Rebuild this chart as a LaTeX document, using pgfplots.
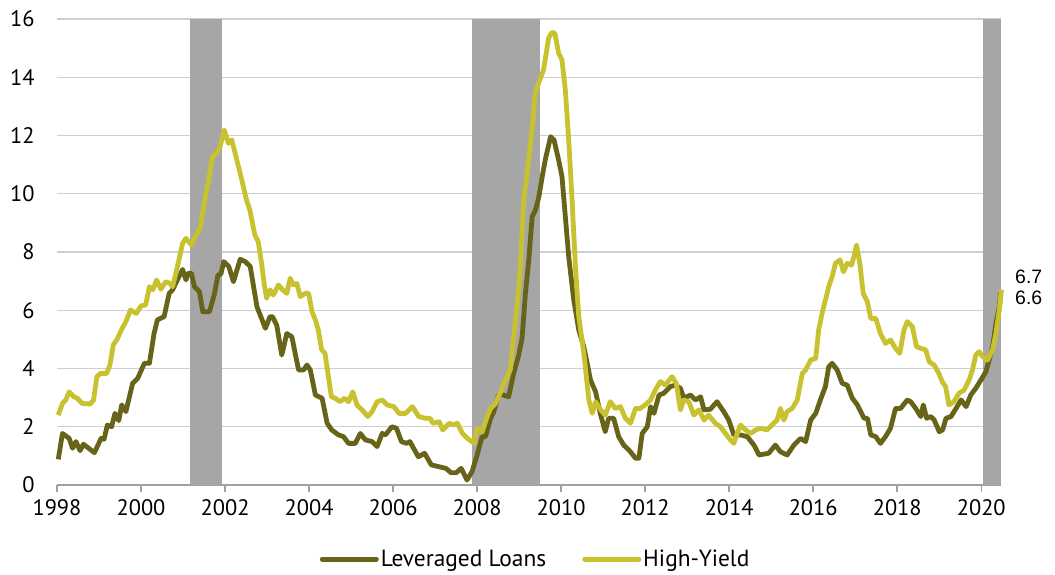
\documentclass[border=0pt]{standalone}
\usepackage{fontspec}
\setmainfont{PT Sans}
\newfontfamily\lblfont{Liberation Sans}
\usepackage{pgfplots}
\pgfplotsset{compat=1.18}
\definecolor{loancol}{HTML}{67641A}
\definecolor{hycol}{HTML}{C8C230}
\definecolor{recgray}{HTML}{A6A6A6}
\definecolor{gridcol}{HTML}{CFCFCF}
\definecolor{axcol}{HTML}{A0A0A0}
\begin{document}
\begin{tikzpicture}
\useasboundingbox (-57bp,-90bp) rectangle (998bp,485bp);
\begin{axis}[
  scale only axis,
  width=944bp, height=466bp,
  xmin=1998, xmax=2020.47,
  ymin=0, ymax=16,
  xtick={1998,2000,...,2020},
  ytick={0,2,...,16},
  xticklabel style={/pgf/number format/1000 sep={}},
  /pgf/number format/assume math mode=true,
  tick label style={font=\fontsize{22.5}{24}\selectfont},
  axis lines*=left,
  y axis line style={draw=none},
  x axis line style={draw=axcol, line width=1.5bp},
  ytick style={draw=none},
  xtick style={draw=axcol, line width=1.5bp},
  tick align=outside,
  major tick length=7bp,
  ymajorgrids,
  grid style={draw=gridcol, line width=1.3bp},
  yticklabel style={xshift=-12bp},
  xticklabel style={yshift=-4bp},
  legend style={at={(0.507,-0.159)}, anchor=center, draw=none, fill=none,
    legend columns=2, font=\fontsize{23.5}{25}\selectfont,
    /tikz/every even column/.append style={column sep=34bp}},
  legend image code/.code={\draw[#1, line width=5bp, line cap=round] (0bp,0bp) -- (54bp,0bp);},
  clip=false,
]
\addplot[fill=recgray, draw=none, forget plot] coordinates {(2001.17,0) (2001.17,16) (2001.92,16) (2001.92,0)} -- cycle;
\addplot[fill=recgray, draw=none, forget plot] coordinates {(2007.88,0) (2007.88,16) (2009.5,16) (2009.5,0)} -- cycle;
\addplot[fill=recgray, draw=none, forget plot] coordinates {(2020.05,0) (2020.05,16) (2020.47,16) (2020.47,0)} -- cycle;

\addplot[loancol, line width=4.8bp, line join=round] coordinates {
(1998.03,0.88) (1998.13,1.77) (1998.29,1.6) (1998.37,1.26) (1998.45,1.49) (1998.55,1.18) (1998.63,1.4) (1998.89,1.11)
(1999.05,1.6) (1999.12,1.57) (1999.2,2.06) (1999.3,2.0) (1999.38,2.46) (1999.47,2.21) (1999.54,2.75) (1999.64,2.52)
(1999.8,3.49) (1999.92,3.66) (2000.08,4.18) (2000.2,4.18) (2000.31,5.2) (2000.39,5.67) (2000.55,5.78) (2000.67,6.58)
(2000.75,6.7) (2000.99,7.4) (2001.07,7.04) (2001.12,7.27) (2001.2,7.27) (2001.27,6.81) (2001.39,6.64) (2001.47,5.95)
(2001.63,5.95) (2001.75,6.58) (2001.83,7.21) (2001.9,7.24) (2001.97,7.67) (2002.09,7.5) (2002.2,6.98) (2002.36,7.75)
(2002.48,7.67) (2002.6,7.5) (2002.76,6.12) (2002.96,5.38) (2003.07,5.78) (2003.13,5.78) (2003.23,5.49) (2003.35,4.46)
(2003.47,5.2) (2003.59,5.09) (2003.75,3.95) (2003.87,3.95) (2003.95,4.12) (2004.03,3.95) (2004.15,3.09) (2004.31,2.98)
(2004.43,2.12) (2004.54,1.89) (2004.7,1.72) (2004.82,1.66) (2004.94,1.43) (2005.1,1.43) (2005.22,1.77) (2005.34,1.55)
(2005.5,1.49) (2005.62,1.32) (2005.74,1.77) (2005.82,1.72) (2005.97,2.0) (2006.08,1.95) (2006.2,1.49) (2006.32,1.43)
(2006.4,1.49) (2006.6,0.97) (2006.75,1.09) (2006.91,0.69) (2007.26,0.57) (2007.38,0.42) (2007.5,0.42) (2007.62,0.57)
(2007.76,0.17) (2007.88,0.46) (2008.0,1.03) (2008.12,1.66) (2008.2,1.66) (2008.32,2.29) (2008.4,2.52) (2008.51,3.09)
(2008.63,3.09) (2008.75,3.03) (2008.87,3.83) (2008.99,4.46) (2009.07,5.04) (2009.15,6.58) (2009.23,7.73) (2009.31,9.21)
(2009.39,9.44) (2009.47,9.9) (2009.55,10.59) (2009.63,11.22) (2009.75,11.96) (2009.83,11.85) (2009.94,11.16) (2010.02,10.59)
(2010.1,9.21) (2010.18,7.84) (2010.3,6.35) (2010.42,5.32) (2010.54,4.75) (2010.7,3.6) (2010.82,3.2) (2010.93,2.46)
(2011.05,1.83) (2011.13,2.29) (2011.25,2.29) (2011.37,1.66) (2011.49,1.37) (2011.65,1.14) (2011.77,0.92) (2011.85,0.92)
(2011.93,1.77) (2012.05,2.0) (2012.13,2.69) (2012.21,2.46) (2012.33,3.09) (2012.44,3.15) (2012.6,3.38) (2012.72,3.43)
(2012.84,3.32) (2012.92,2.98) (2013.08,3.09) (2013.2,2.92) (2013.32,3.03) (2013.4,2.58) (2013.55,2.6) (2013.71,2.86)
(2013.87,2.52) (2013.99,2.23) (2014.11,1.72) (2014.27,1.72) (2014.43,1.66) (2014.59,1.37) (2014.71,1.03) (2014.94,1.09)
(2015.1,1.37) (2015.22,1.14) (2015.38,1.03) (2015.54,1.37) (2015.7,1.6) (2015.82,1.49) (2015.94,2.23) (2016.06,2.46)
(2016.17,2.92) (2016.29,3.38) (2016.37,4.06) (2016.45,4.18) (2016.57,3.95) (2016.69,3.49) (2016.81,3.43) (2016.93,2.98)
(2017.05,2.75) (2017.21,2.29) (2017.29,2.29) (2017.37,1.72) (2017.49,1.66) (2017.6,1.43) (2017.72,1.66) (2017.84,1.95)
(2017.96,2.63) (2018.08,2.63) (2018.24,2.92) (2018.32,2.86) (2018.44,2.63) (2018.56,2.35) (2018.62,2.75) (2018.7,2.29)
(2018.8,2.35) (2018.88,2.23) (2019.0,1.83) (2019.08,1.89) (2019.16,2.29) (2019.28,2.35) (2019.4,2.63) (2019.52,2.92)
(2019.64,2.69) (2019.75,3.09) (2019.87,3.32) (2019.99,3.6) (2020.11,3.89) (2020.19,4.29) (2020.27,4.75) (2020.35,5.55)
(2020.43,6.12) (2020.46,6.6)
};
\addlegendentry{Leveraged Loans}

\addplot[hycol, line width=4.8bp, line join=round] coordinates {
(1998.03,2.4) (1998.13,2.8) (1998.21,2.92) (1998.29,3.2) (1998.4,3.03) (1998.48,2.98) (1998.6,2.8) (1998.79,2.78)
(1998.87,2.92) (1998.95,3.72) (1999.03,3.83) (1999.18,3.83) (1999.26,4.12) (1999.34,4.81) (1999.43,5.0) (1999.53,5.32)
(1999.64,5.61) (1999.75,6.01) (1999.89,5.89) (2000.0,6.15) (2000.11,6.18) (2000.2,6.81) (2000.28,6.7) (2000.37,7.04)
(2000.47,6.72) (2000.59,6.98) (2000.69,6.92) (2000.75,6.81) (2000.83,7.27) (2000.92,7.84) (2000.99,8.3) (2001.07,8.47)
(2001.2,8.24) (2001.29,8.53) (2001.41,8.81) (2001.49,9.56) (2001.61,10.47) (2001.7,11.27) (2001.8,11.39) (2001.88,11.62)
(2001.98,12.19) (2002.08,11.73) (2002.16,11.85) (2002.28,11.16) (2002.4,10.47) (2002.51,9.79) (2002.59,9.44) (2002.71,8.58)
(2002.79,8.35) (2002.87,7.61) (2002.93,6.92) (2002.99,6.41) (2003.07,6.7) (2003.15,6.52) (2003.27,6.87) (2003.37,6.7)
(2003.47,6.58) (2003.55,7.1) (2003.63,6.87) (2003.71,6.92) (2003.79,6.47) (2003.91,6.58) (2003.99,6.58) (2004.07,5.95)
(2004.15,5.67) (2004.22,5.32) (2004.3,4.64) (2004.38,4.52) (2004.46,3.72) (2004.53,3.03) (2004.62,2.98) (2004.74,2.86)
(2004.84,2.98) (2004.94,2.86) (2005.04,3.2) (2005.14,2.75) (2005.26,2.58) (2005.4,2.35) (2005.5,2.52) (2005.62,2.86)
(2005.74,2.92) (2005.86,2.75) (2006.02,2.69) (2006.14,2.46) (2006.3,2.46) (2006.46,2.69) (2006.61,2.35) (2006.77,2.29)
(2006.88,2.29) (2006.95,2.12) (2007.1,2.17) (2007.18,1.89) (2007.34,2.12) (2007.43,2.06) (2007.53,2.12) (2007.65,1.77)
(2007.77,1.6) (2007.93,1.43) (2008.0,1.95) (2008.12,1.83) (2008.24,2.35) (2008.32,2.63) (2008.44,2.8) (2008.56,3.2)
(2008.67,3.6) (2008.79,3.95) (2008.87,5.09) (2008.95,6.12) (2009.03,7.5) (2009.11,9.79) (2009.19,10.7) (2009.27,11.73)
(2009.34,12.65) (2009.38,13.45) (2009.46,13.79) (2009.58,14.25) (2009.62,14.59) (2009.7,15.34) (2009.78,15.54) (2009.85,15.51)
(2009.94,14.82) (2010.02,14.59) (2010.1,13.56) (2010.18,11.85) (2010.26,9.79) (2010.34,7.5) (2010.42,5.78) (2010.54,4.52)
(2010.66,2.92) (2010.74,2.46) (2010.82,2.86) (2010.94,2.58) (2011.05,2.4) (2011.17,2.86) (2011.29,2.63) (2011.41,2.69)
(2011.53,2.29) (2011.65,2.12) (2011.77,2.63) (2011.89,2.63) (2012.0,2.75) (2012.13,2.92) (2012.24,3.26) (2012.36,3.55)
(2012.48,3.43) (2012.64,3.72) (2012.74,3.49) (2012.84,2.58) (2012.92,2.92) (2013.04,2.86) (2013.16,2.4) (2013.28,2.58)
(2013.4,2.23) (2013.51,2.4) (2013.67,2.12) (2013.79,2.0) (2013.91,1.77) (2014.03,1.55) (2014.11,1.43) (2014.19,1.77)
(2014.27,2.06) (2014.39,1.89) (2014.51,1.77) (2014.63,1.89) (2014.75,1.95) (2014.9,1.89) (2015.02,2.06) (2015.14,2.23)
(2015.22,2.63) (2015.3,2.23) (2015.38,2.52) (2015.5,2.63) (2015.62,2.92) (2015.74,3.83) (2015.82,3.95) (2015.94,4.29)
(2016.06,4.35) (2016.13,5.32) (2016.21,5.89) (2016.29,6.35) (2016.37,6.81) (2016.45,7.15) (2016.53,7.61) (2016.64,7.73)
(2016.72,7.32) (2016.81,7.61) (2016.91,7.55) (2016.97,7.84) (2017.03,8.24) (2017.11,7.61) (2017.19,6.58) (2017.29,6.29)
(2017.37,5.72) (2017.49,5.72) (2017.6,5.2) (2017.72,4.86) (2017.84,4.98) (2017.96,4.69) (2018.06,4.52) (2018.16,5.32)
(2018.24,5.61) (2018.36,5.44) (2018.46,4.75) (2018.56,4.69) (2018.68,4.64) (2018.76,4.23) (2018.88,4.12) (2018.99,3.83)
(2019.07,3.55) (2019.15,3.38) (2019.23,2.75) (2019.35,2.86) (2019.47,3.15) (2019.59,3.26) (2019.71,3.6) (2019.79,3.95)
(2019.87,4.46) (2019.95,4.58) (2020.03,4.41) (2020.15,4.29) (2020.27,4.64) (2020.35,5.2) (2020.43,6.01) (2020.48,6.7)
};
\addlegendentry{High-Yield}

\node[anchor=west, font=\lblfont\fontsize{19.5}{21}\selectfont, inner sep=0pt] at (axis cs:2020.47,7.14) [xshift=14bp] {6.7};
\node[anchor=west, font=\lblfont\fontsize{19.5}{21}\selectfont, inner sep=0pt] at (axis cs:2020.47,6.42) [xshift=14bp] {6.6};
\end{axis}
\end{tikzpicture}
\end{document}
